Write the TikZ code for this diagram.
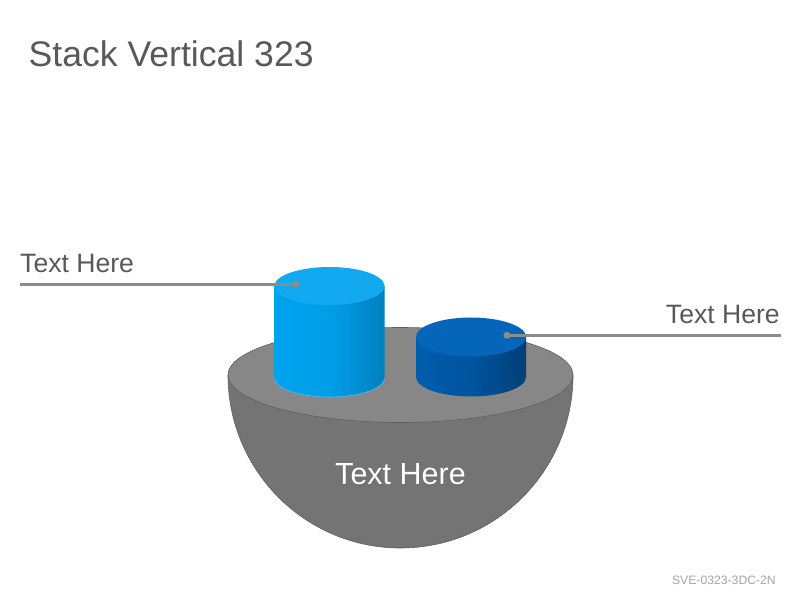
\documentclass[tikz,border=0pt]{standalone}
\usepackage{fontspec}
\setmainfont{Liberation Sans}
\definecolor{txtgray}{HTML}{595959}
\definecolor{linegray}{HTML}{8C8C8C}
\definecolor{bowlside}{HTML}{747474}
\definecolor{bowltop}{HTML}{878787}
\definecolor{bowledge}{HTML}{5E5E5E}
\definecolor{lbtop}{HTML}{12A9F0}
\definecolor{lbleft}{HTML}{00A3EF}
\definecolor{lbright}{HTML}{0080BF}
\definecolor{dbtop}{HTML}{0565B9}
\definecolor{dbleft}{HTML}{005DAE}
\definecolor{dbright}{HTML}{003F78}
\definecolor{foot}{HTML}{A6A6A6}
\begin{document}
\begin{tikzpicture}[x=1pt,y=1pt,
  label/.style={inner sep=0pt,text=txtgray,font=\fontsize{26.6}{30}\selectfont},
  leader/.style={draw=linegray,line width=2.5pt},
  dot/.style={circle,fill=linegray,inner sep=0pt,minimum size=7pt}]
\useasboundingbox (0,0) rectangle (800,600);
\fill[white] (0,0) rectangle (800,600);
% title
\node[inner sep=0pt,anchor=base west,text=txtgray,font=\fontsize{35.6}{40}\selectfont] (title) at (28.5,533.3) {Stack Vertical 323};
% bowl
\fill[bowlside,draw=bowledge,line width=0.6pt] (228,225) arc[start angle=180,end angle=360,x radius=172.5,y radius=173] -- cycle;
\filldraw[fill=bowltop,draw=bowledge,line width=0.6pt] (400.5,225) ellipse[x radius=172.5,y radius=47.5];
% light cylinder
\shade[left color=lbleft,right color=lbright,middle color=lbleft!85!lbright] (274.5,314) -- (274.5,222) arc[start angle=180,end angle=360,x radius=55,y radius=19] -- (384.5,314) -- cycle;
\draw[lbleft!70!white,line width=0.6pt] (274.5,222) arc[start angle=180,end angle=360,x radius=55,y radius=19];
\fill[lbtop] (329.5,314) ellipse[x radius=55,y radius=19];
% dark cylinder
\shade[left color=dbleft,right color=dbright,middle color=dbleft!70!dbright] (416,263) -- (416,223) arc[start angle=180,end angle=360,x radius=55,y radius=19.5] -- (526,263) -- cycle;
\fill[dbtop] (471,263) ellipse[x radius=55,y radius=19.5];
% labels
\node[label,anchor=base west] (ltext) at (20,327.3) {Text Here};
\coordinate (lend) at (20,315.7);
\node[dot] (ldot) at (296,315.7) {};
\draw[leader] (lend) -- (ldot.center);
\node[label,anchor=base east] (rtext) at (780,276) {Text Here};
\coordinate (rend) at (781,264.7);
\node[dot] (rdot) at (507,264.7) {};
\draw[leader] (rdot.center) -- (rend);
% centre label
\node[inner sep=0pt,anchor=base,text=black!60,opacity=0.5,font=\fontsize{30.5}{34}\selectfont] (cshadow) at (401.2,114.8) {Text Here};
\node[inner sep=0pt,anchor=base,text=white,font=\fontsize{30.5}{34}\selectfont] (ctext) at (400.5,116) {Text Here};
% footer
\node[inner sep=0pt,anchor=base east,text=foot,font=\fontsize{12.2}{14}\selectfont] (footer) at (776,16) {SVE-0323-3DC-2N};
\end{tikzpicture}
\end{document}
